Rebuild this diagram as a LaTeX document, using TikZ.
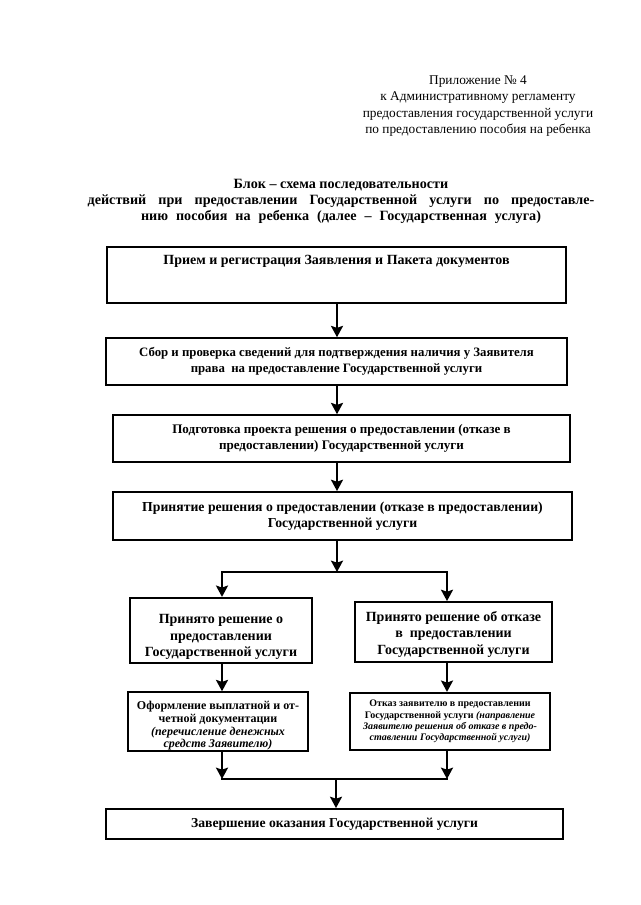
\documentclass[tikz,border=0pt]{standalone}
\usepackage{fontspec}
\setmainfont{Liberation Serif}
\usetikzlibrary{arrows.meta,calc}

\begin{document}
\begin{tikzpicture}[x=0.75pt,y=-0.75pt,
    block/.style={draw,line width=1.4pt,align=center,inner sep=2pt,font=\bfseries\fontsize{10}{12}\selectfont},
    flow/.style={line width=1.6pt,-{Stealth[length=8.5pt,width=9pt,inset=1.5pt]}},
    wire/.style={line width=1.6pt,line cap=rect}
  ]
    \useasboundingbox (0,0) rectangle (640,905);

    \node[align=center,font=\fontsize{10}{12.4}\selectfont] (annex) at (478,106) {Приложение № 4\\к Административному регламенту\\предоставления государственной услуги\\по предоставлению пособия на ребенка};
    \node[align=center,font=\bfseries\fontsize{10.6}{12}\selectfont] (title) at (341,201) {Блок – схема последовательности\\\makebox[380pt][s]{действий при предоставлении Государственной услуги по предоставле-}\\\makebox[300pt][s]{нию пособия на ребенка (далее – Государственная услуга)}};

    \node[block,font=\bfseries\fontsize{10.5}{12}\selectfont,minimum width=344pt,minimum height=42pt] (receive) at (336.5,275) {Прием и регистрация Заявления и Пакета документов\\[10pt]\mbox{}};
    \node[block,font=\bfseries\fontsize{9.6}{12}\selectfont,minimum width=346pt,minimum height=35pt] (verify) at (336.5,361.5) {Сбор и проверка сведений для подтверждения наличия у Заявителя\\права\ \ на предоставление Государственной услуги};
    \node[block,font=\bfseries\fontsize{9.8}{12}\selectfont,minimum width=343pt,minimum height=35pt] (draft) at (341.5,438.5) {Подготовка проекта решения о предоставлении (отказе в\\предоставлении) Государственной услуги};
    \node[block,font=\bfseries\fontsize{10.3}{12}\selectfont,minimum width=344pt,minimum height=36pt] (decide) at (342.5,516) {Принятие решения о предоставлении (отказе в предоставлении)\\Государственной услуги};

    \node[block,font=\bfseries\fontsize{10.5}{12.4}\selectfont,minimum width=136.5pt,minimum height=49pt] (grant) at (221,630.5) {\rule{0pt}{17pt}Принято решение о\\предоставлении\\Государственной услуги};
    \node[block,font=\bfseries\fontsize{10.5}{12.4}\selectfont,minimum width=148pt,minimum height=45pt] (deny) at (453.5,632) {\rule{0pt}{11pt}Принято решение об отказе\\в\ \ предоставлении\\Государственной услуги};

    \node[block,font=\bfseries\fontsize{9}{9.5}\selectfont,inner ysep=0pt,minimum width=135pt,minimum height=44pt] (pay) at (218,721.5) {\rule{0pt}{13pt}Оформление выплатной и от-\\четной документации\\\textit{(перечисление денежных}\\\textit{средств Заявителю)}};
    \node[block,font=\bfseries\fontsize{7.5}{8.6}\selectfont,minimum width=150pt,minimum height=43pt] (notify) at (450,721.5) {Отказ заявителю в предоставлении\\Государственной услуги \textit{(направление}\\\textit{Заявителю решения об отказе в предо-}\\\textit{ставлении Государственной услуги)}};

    \node[block,font=\bfseries\fontsize{10.25}{12}\selectfont,minimum width=343pt,minimum height=22.5pt] (finish) at (334.5,824) {Завершение оказания Государственной услуги};

    \coordinate (axis) at (337,0);
    \coordinate (fork) at (337,572);
    \coordinate (forkl) at (222,572);
    \coordinate (forkr) at (447,572);
    \coordinate (joinl) at (222,779);
    \coordinate (joinr) at (447,779);
    \coordinate (join) at (336,779);

    \draw[flow] (receive.south -| axis) -- (verify.north -| axis);
    \draw[flow] (verify.south -| axis) -- (draft.north -| axis);
    \draw[flow] (draft.south -| axis) -- (decide.north -| axis);
    \draw[flow] (decide.south -| axis) -- (fork);
    \draw[wire] (forkl) -- (forkr);
    \draw[flow] (forkl) -- (forkl |- grant.north);
    \draw[flow] (forkr) -- (forkr |- deny.north);
    \draw[flow] (forkl |- grant.south) -- (forkl |- pay.north);
    \draw[flow] (forkr |- deny.south) -- (forkr |- notify.north);
    \draw[flow] (forkl |- pay.south) -- (joinl);
    \draw[flow] (forkr |- notify.south) -- (joinr);
    \draw[wire] (joinl) -- (joinr);
    \draw[flow] (join) -- (join |- finish.north);
  \end{tikzpicture}
\end{document}
